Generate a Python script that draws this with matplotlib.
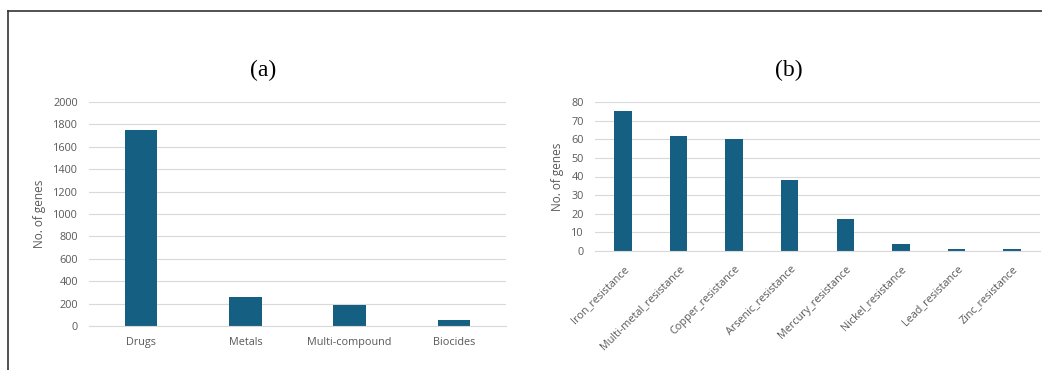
import matplotlib.pyplot as plt
from matplotlib.lines import Line2D

# panel (a): gene counts by compound class
klasy = ["Drugs", "Metals", "Multi-compound", "Biocides"]
geny_klasy = [1750, 260, 190, 55]

# panel (b): metal resistance genes
metale = ["Iron_resistance", "Multi-metal_resistance", "Copper_resistance",
          "Arsenic_resistance", "Mercury_resistance", "Nickel_resistance",
          "Lead_resistance", "Zinc_resistance"]
geny_metale = [75, 62, 60, 38, 17, 4, 1, 1]

KOLOR = "#156082"
SZARY = "#595959"
SIATKA = "#d9d9d9"
W, H = 1042, 370


def ustaw_os(ax, ymax, krok):
    ax.set_ylim(0, ymax)
    ax.set_yticks(range(0, ymax + 1, krok))
    ax.grid(axis="y", color=SIATKA, linewidth=0.8)
    ax.set_axisbelow(True)
    for s in ["top", "right", "left"]:
        ax.spines[s].set_visible(False)
    ax.spines["bottom"].set_color(SIATKA)
    ax.spines["bottom"].set_linewidth(0.8)
    ax.tick_params(length=0, colors=SZARY, labelsize=7.8)
    ax.set_ylabel("No. of genes", color=SZARY, fontsize=8.5)


plt.rcParams["font.family"] = ["Open Sans", "DejaVu Sans"]
fig = plt.figure(figsize=(W / 100, H / 100), dpi=100)

# (a)
ax1 = fig.add_axes([89 / W, 1 - 326 / H, 417 / W, 224 / H])
ax1.bar(range(len(klasy)), geny_klasy, width=0.313, color=KOLOR)
ax1.set_xlim(-0.5, len(klasy) - 0.5)
ustaw_os(ax1, 2000, 200)
ax1.set_xticks(range(len(klasy)))
ax1.set_xticklabels(klasy)
ax1.tick_params(axis="x", pad=8)
ax1.tick_params(axis="y", pad=8)
ax1.yaxis.labelpad = 5

# (b)
ax2 = fig.add_axes([595 / W, 1 - 251 / H, 445 / W, 149 / H])
ax2.bar(range(len(metale)), geny_metale, width=0.313, color=KOLOR)
ax2.set_xlim(-0.5, len(metale) - 0.5)
ustaw_os(ax2, 80, 10)
ax2.set_xticks(range(len(metale)))
ax2.set_xticklabels(metale, rotation=45, ha="right", rotation_mode="anchor")
ax2.tick_params(axis="x", pad=9)
ax2.tick_params(axis="y", pad=8)
ax2.yaxis.labelpad = 5

fig.text(263 / W, 1 - 70 / H, "(a)", family="Liberation Serif", fontsize=17,
         ha="center", va="center")
fig.text(789 / W, 1 - 70 / H, "(b)", family="Liberation Serif", fontsize=17,
         ha="center", va="center")

# ramka (tylko gora i lewa strona widoczne)
fig.add_artist(Line2D([7.5 / W, 1], [1 - 10.5 / H, 1 - 10.5 / H],
                      color="#333333", linewidth=1.2))
fig.add_artist(Line2D([7.5 / W, 7.5 / W], [0, 1 - 10.5 / H],
                      color="#333333", linewidth=1.2))

fig.savefig("out.png", dpi=100)
